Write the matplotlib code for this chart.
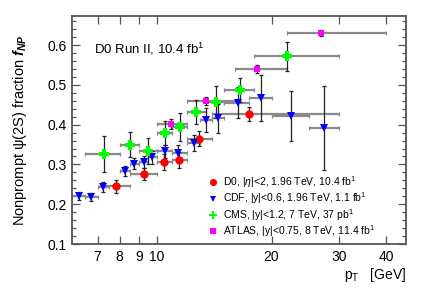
import matplotlib
matplotlib.use('Agg')
import matplotlib.pyplot as plt
from matplotlib.ticker import FixedLocator, NullFormatter, MultipleLocator
import numpy as np

plt.rcParams['font.family'] = ['Liberation Sans', 'DejaVu Sans']
plt.rcParams['mathtext.fontset'] = 'custom'
plt.rcParams['mathtext.rm'] = 'Liberation Sans'
plt.rcParams['mathtext.it'] = 'Liberation Sans:italic'
plt.rcParams['mathtext.bf'] = 'Liberation Sans:bold'
plt.rcParams['mathtext.bfit'] = 'Liberation Sans:bold:italic'

# D0, |eta|<2
d0_pt = [7.81, 9.25, 10.47, 11.46, 12.9, 17.5]
d0_lo = [7.3, 8.5, 10.0, 11.0, 12.0, 14.0]
d0_hi = [8.5, 10.0, 11.0, 12.0, 14.0, 30.0]
d0_f = [0.245, 0.276, 0.305, 0.312, 0.365, 0.427]
d0_err = [0.016, 0.016, 0.020, 0.020, 0.018, 0.018]

# CDF, |y|<0.6
cdf_pt = [6.26, 6.74, 7.25, 8.26, 8.74, 9.25, 9.72, 10.5, 11.4, 12.5, 13.5, 14.5, 16.3, 18.75, 22.5, 27.5]
cdf_lo = [6.0, 6.5, 7.0, 8.0, 8.5, 9.0, 9.5, 10.0, 11.0, 12.0, 13.0, 14.0, 15.0, 17.5, 20.0, 25.0]
cdf_hi = [6.5, 7.0, 7.5, 8.5, 9.0, 9.5, 10.0, 11.0, 12.0, 13.0, 14.0, 15.0, 17.5, 20.0, 25.0, 30.0]
cdf_f = [0.221, 0.217, 0.243, 0.283, 0.302, 0.306, 0.318, 0.333, 0.330, 0.355, 0.412, 0.416, 0.455, 0.466, 0.422, 0.392]
cdf_err = [0.010, 0.010, 0.012, 0.012, 0.014, 0.015, 0.016, 0.016, 0.018, 0.020, 0.030, 0.036, 0.039, 0.058, 0.063, 0.106]

# CMS, |y|<1.2
cms_pt = [7.29, 8.50, 9.49, 10.5, 11.5, 12.7, 14.3, 16.5, 21.9]
cms_lo = [6.5, 8.0, 9.0, 10.0, 11.0, 12.0, 13.5, 15.0, 18.0]
cms_hi = [8.0, 9.0, 10.0, 11.0, 12.0, 13.5, 15.0, 18.0, 30.0]
cms_f = [0.327, 0.350, 0.334, 0.378, 0.395, 0.431, 0.456, 0.487, 0.572]
cms_err = [0.045, 0.031, 0.033, 0.030, 0.035, 0.030, 0.040, 0.030, 0.036]

# ATLAS, |y|<0.75
atl_pt = [10.9, 13.5, 18.3, 27.0]
atl_lo = [10.0, 12.0, 16.0, 22.0]
atl_hi = [12.0, 16.0, 22.0, 40.0]
atl_f = [0.401, 0.460, 0.540, 0.631]
atl_err = [0.012, 0.010, 0.010, 0.008]

fig = plt.figure(figsize=(4.32, 2.93), dpi=100)
ax = fig.add_axes([0.1667, 0.1672, 0.773, 0.778])


def draw(pt, lo, hi, f, err, color, marker, ms, label):
    pt = np.array(pt)
    xerr = [pt - np.array(lo), np.array(hi) - pt]
    ax.errorbar(pt, f, xerr=xerr, fmt='none', ecolor='#8a8a8a', elinewidth=1.6,
                capsize=1.3, capthick=0.9, zorder=2)
    ax.errorbar(pt, f, yerr=err, fmt='none', ecolor='#222222', elinewidth=0.9,
                capsize=1.3, capthick=0.9, zorder=3)
    ax.plot(pt, f, linestyle='none', marker=marker, color=color, markersize=ms,
            markeredgewidth=0, zorder=4, label=label)


draw(d0_pt, d0_lo, d0_hi, d0_f, d0_err, '#ff0000', 'o', 6,
     r'D0, |$\eta$|<2, 1.96 TeV, 10.4 fb$^{1}$')
draw(cdf_pt, cdf_lo, cdf_hi, cdf_f, cdf_err, '#0000ff', 'v', 5.5,
     r'CDF, |y|<0.6, 1.96 TeV, 1.1 fb$^{1}$')
draw(cms_pt, cms_lo, cms_hi, cms_f, cms_err, '#00ff00', 'P', 6.5,
     r'CMS, |y|<1.2, 7 TeV, 37 pb$^{1}$')
draw(atl_pt, atl_lo, atl_hi, atl_f, atl_err, '#ff00ff', 's', 4.8,
     r'ATLAS, |y|<0.75, 8 TeV, 11.4 fb$^{1}$')

ax.set_xscale('log')
ax.set_xlim(6, 45)
ax.set_ylim(0.1, 0.673)

xt = [7, 8, 9, 10, 20, 30, 40]
ax.xaxis.set_major_locator(FixedLocator(xt))
ax.set_xticks(xt)
ax.set_xticklabels([str(v) for v in xt])
ax.xaxis.set_minor_locator(FixedLocator([]))
ax.xaxis.set_minor_formatter(NullFormatter())
ax.yaxis.set_major_locator(MultipleLocator(0.1))
ax.yaxis.set_minor_locator(MultipleLocator(0.02))
ax.set_yticks([0.1, 0.2, 0.3, 0.4, 0.5, 0.6])
ax.set_yticklabels(['0.1', '0.2', '0.3', '0.4', '0.5', '0.6'])

ax.tick_params(which='both', direction='in', top=True, right=True,
               labelsize=10, colors='#555555', labelcolor='black', pad=4)
ax.tick_params(which='major', length=6, width=0.9)
ax.tick_params(which='minor', length=3, width=0.9)
for s in ax.spines.values():
    s.set_color('#555555')
    s.set_linewidth(1.3)

ax.set_ylabel(r'Nonprompt ψ(2S) fraction $\mathbfit{f}_{\mathbfit{NP}}$', fontsize=10.5)
ax.yaxis.set_label_coords(-0.13, 0.5)
fig.text(0.94, 0.03, r'p$_{\rm T}$   [GeV]', ha='right', va='bottom', fontsize=10)

ax.text(0.065, 0.855, r'D0 Run II, 10.4 fb$^{1}$', transform=ax.transAxes,
        fontsize=9.5, ha='left', va='center')

ax.legend(loc='upper left', bbox_to_anchor=(0.395, 0.325), frameon=False,
          fontsize=7.5, handlelength=1.0, handletextpad=0.4, markerscale=0.85,
          labelspacing=0.05, borderaxespad=0)

fig.savefig('out.png', dpi=100)
